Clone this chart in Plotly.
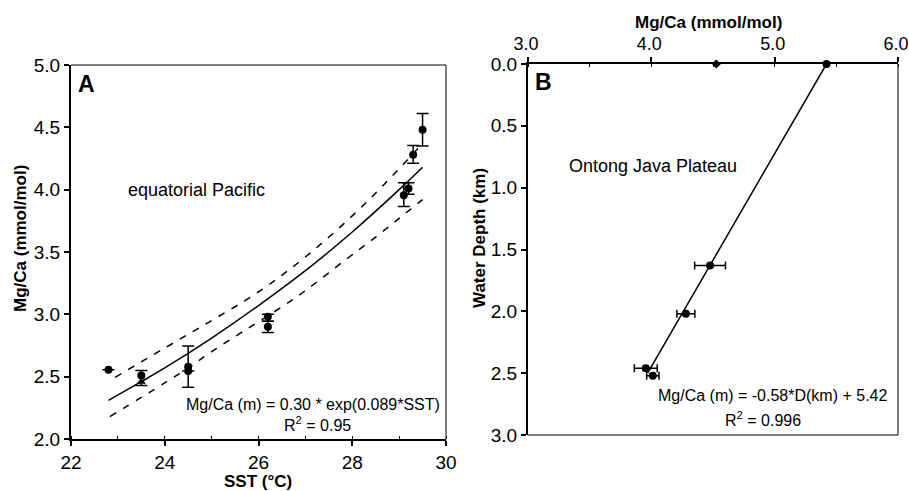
import plotly.graph_objects as go

W, H = 909, 491

# ---------------- Panel A data ----------------
sst_pts = [22.8, 23.5, 24.5, 24.5, 26.2, 26.2, 29.1, 29.2, 29.3, 29.5]
mg_pts = [2.555, 2.51, 2.58, 2.545, 2.98, 2.90, 3.955, 4.01, 4.28, 4.48]
mg_err_plus = [0, 0.04, 0.166, 0, 0.02, 0.045, 0.10, 0.046, 0.074, 0.13]
mg_err_minus = [0, 0.08, 0.165, 0, 0.035, 0.045, 0.09, 0.046, 0.068, 0.13]
sst_tri = [23.5]
mg_tri = [2.46]

sst_fit = [22.8, 23.5, 24.0, 25.0, 26.0, 27.0, 28.0, 29.0, 29.5]
mg_fit = [2.31, 2.46, 2.57, 2.81, 3.07, 3.35, 3.66, 4.00, 4.18]
sst_up = [22.94, 24.0, 25.0, 26.0, 27.0, 28.0, 28.7, 29.4]
mg_up = [2.495, 2.73, 2.95, 3.18, 3.46, 3.79, 4.05, 4.33]
sst_lo = [22.83, 24.0, 24.5, 25.0, 25.7, 26.5, 27.0, 27.9, 28.5, 29.0, 29.5]
mg_lo = [2.18, 2.45, 2.57, 2.70, 2.87, 3.06, 3.19, 3.45, 3.62, 3.77, 3.92]

# ---------------- Panel B data ----------------
mg_b = [5.42, 4.476, 4.28, 3.955, 4.012]
depth_b = [0.0, 1.63, 2.02, 2.46, 2.52]
mg_b_err = [0, 0.125, 0.073, 0.093, 0.05]
mg_diamond = [4.527]
depth_diamond = [0.0]
depth_line = [0.0, 2.5]
mg_line = [5.42, 3.97]

FONT = "Liberation Sans, Arial, Helvetica, sans-serif"

fig = go.Figure()

# Panel A
fig.add_trace(go.Scatter(x=sst_fit, y=mg_fit, mode="lines", line=dict(color="black", width=1.5),
                         line_shape="spline", xaxis="x", yaxis="y", showlegend=False))
fig.add_trace(go.Scatter(x=sst_up, y=mg_up, mode="lines", line=dict(color="black", width=1.5, dash="7px,8px"),
                         line_shape="spline", xaxis="x", yaxis="y", showlegend=False))
fig.add_trace(go.Scatter(x=sst_lo, y=mg_lo, mode="lines", line=dict(color="black", width=1.5, dash="7px,8px"),
                         line_shape="spline", xaxis="x", yaxis="y", showlegend=False))
fig.add_trace(go.Scatter(x=sst_pts, y=mg_pts, mode="markers",
                         marker=dict(color="black", size=8, symbol="circle"),
                         error_y=dict(type="data", array=mg_err_plus, arrayminus=mg_err_minus,
                                      color="black", thickness=1.5, width=6, symmetric=False),
                         xaxis="x", yaxis="y", showlegend=False))
fig.add_trace(go.Scatter(x=sst_tri, y=mg_tri, mode="markers",
                         marker=dict(color="black", size=8, symbol="triangle-up"),
                         xaxis="x", yaxis="y", showlegend=False))

# Panel B
fig.add_trace(go.Scatter(x=mg_line, y=depth_line, mode="lines", line=dict(color="black", width=1.5),
                         xaxis="x2", yaxis="y2", showlegend=False, cliponaxis=False))
fig.add_trace(go.Scatter(x=mg_b, y=depth_b, mode="markers",
                         marker=dict(color="black", size=8),
                         error_x=dict(type="data", array=mg_b_err, color="black", thickness=1.5, width=4),
                         xaxis="x2", yaxis="y2", showlegend=False, cliponaxis=False))
fig.add_trace(go.Scatter(x=mg_diamond, y=depth_diamond, mode="markers",
                         marker=dict(color="black", size=7, symbol="diamond"),
                         xaxis="x2", yaxis="y2", showlegend=False, cliponaxis=False))

tickfont = dict(family=FONT, size=19, color="black")

def px_x(p):
    return p / W

def px_y(p):
    return 1 - p / H

common = dict(ticks="outside", ticklen=5, tickwidth=1.5, tickcolor="black",
              showline=True, linewidth=2, linecolor="black", showgrid=False, zeroline=False,
              automargin=False, ticklabeloverflow="allow")

fig.update_layout(
    width=W, height=H, margin=dict(l=0, r=0, t=0, b=0, pad=0),
    paper_bgcolor="white", plot_bgcolor="white",
    font=dict(family=FONT, color="black"),
    xaxis=dict(domain=[px_x(71), px_x(446)], range=[22, 30], dtick=2, tick0=22, anchor="y",
               tickfont=tickfont,
               minor=dict(dtick=1, ticks="inside", ticklen=3, tickcolor="black", tickwidth=1), **common),
    yaxis=dict(domain=[px_y(439), px_y(65)], range=[2, 5], dtick=0.5, tick0=2, tickformat=".1f",
               anchor="x", tickfont=tickfont, **common),
    xaxis2=dict(domain=[px_x(528), px_x(898)], range=[3, 6], dtick=1, tick0=3, tickformat=".1f",
                side="top", anchor="y2", tickfont=dict(family=FONT, size=18, color="black"),
                ticklabelshift=-2,
                minor=dict(dtick=0.5, ticks="inside", ticklen=3, tickcolor="black", tickwidth=1), **common),
    yaxis2=dict(domain=[px_y(435), px_y(64)], range=[3, 0], dtick=0.5, tick0=0, tickformat=".1f",
                anchor="x2", tickfont=tickfont, **common),
)

# thin top/right spines for A, right/bottom for B
shapes = [
    dict(type="line", xref="x domain", yref="y domain", x0=0, x1=1, y0=1, y1=1, line=dict(color="black", width=1)),
    dict(type="line", xref="x domain", yref="y domain", x0=1, x1=1, y0=0, y1=1, line=dict(color="black", width=1)),
    dict(type="line", xref="x2 domain", yref="y2 domain", x0=1, x1=1, y0=0, y1=1, line=dict(color="black", width=1)),
    dict(type="line", xref="x2 domain", yref="y2 domain", x0=0, x1=1, y0=0, y1=0, line=dict(color="black", width=1)),
]
fig.update_layout(shapes=shapes)

def ann(text, x, y, size, bold=False, angle=0, xanchor="center"):
    return dict(text=("<b>%s</b>" % text) if bold else text, x=px_x(x), y=px_y(y),
                xref="paper", yref="paper", showarrow=False, textangle=angle,
                xanchor=xanchor, yanchor="middle",
                font=dict(family=FONT, size=size, color="black"))

annotations = [
    ann("A", 86, 84, 23, bold=True),
    ann("B", 543, 82, 23, bold=True),
    ann("equatorial Pacific", 196, 190, 18),
    ann("Mg/Ca (m) = 0.30 * exp(0.089*SST)", 442, 404, 16, xanchor="right"),
    ann("R<sup>2</sup> = 0.95", 317, 424, 16),
    ann("Ontong Java Plateau", 653, 166, 18),
    ann("Mg/Ca (m) = -0.58*D(km) + 5.42", 890, 395, 16, xanchor="right"),
    ann("R<sup>2</sup> = 0.996", 763, 419, 16),
    ann("Mg/Ca (mmol/mol)", 20, 239, 17, bold=True, angle=-90),
    ann("SST (\u00b0C)", 258, 481, 17, bold=True),
    ann("Mg/Ca (mmol/mol)", 708, 23, 17, bold=True),
    ann("Water Depth (km)", 480, 238, 17, bold=True, angle=-90),
]
fig.update_layout(annotations=annotations)

fig.write_html("out.html", config={"displayModeBar": False},
               post_script="document.body.style.margin='0';document.body.style.overflow='hidden';")
